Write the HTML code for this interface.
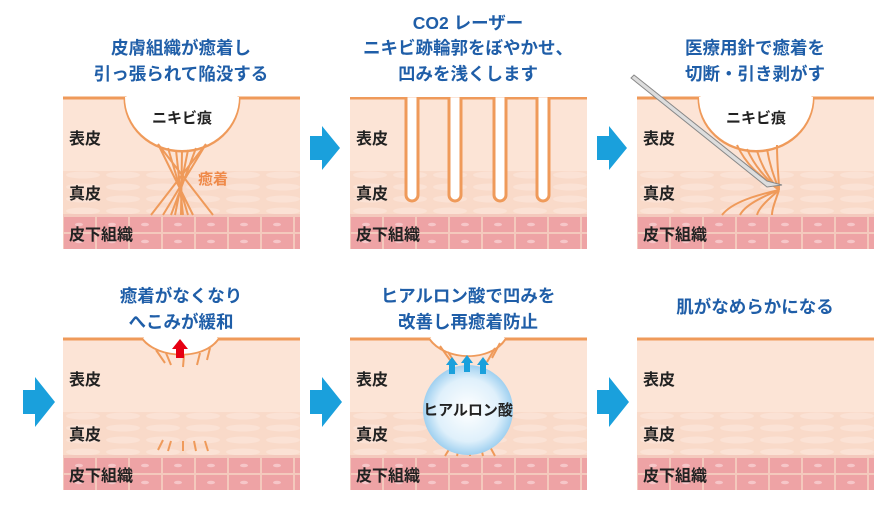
<!DOCTYPE html>
<html><head><meta charset="utf-8"><style>
html,body{margin:0;padding:0;background:#fff;}
svg{display:block;font-family:"Liberation Sans","Noto Sans CJK JP",sans-serif;}
.t{fill:#1f5ea8;font-weight:bold;font-size:17.5px;text-anchor:middle;}
.l{fill:#222;font-size:16px;font-weight:bold;}
.f{stroke:#ef9a5a;stroke-width:2;fill:none;}
</style></head><body>
<svg width="887" height="516" viewBox="0 0 887 516">
<defs>
<pattern id="derm" x="0" y="0" width="40" height="12" patternUnits="userSpaceOnUse">
<rect width="40" height="12" fill="#f9dac9"/>
<ellipse cx="20" cy="6" rx="17" ry="3.5" fill="#fbe2d5"/>
</pattern>
<pattern id="sub" x="0" y="0" width="33" height="17" patternUnits="userSpaceOnUse">
<rect width="33" height="17" fill="#f4c9bd"/>
<rect x="1" y="1" width="31" height="15" fill="#eea3a5"/>
<ellipse cx="16" cy="8.5" rx="4" ry="1.8" fill="#f6c6c8"/>
</pattern>
<g id="panel">
<rect x="0" y="0" width="237" height="74" fill="#fce4d6"/>
<rect x="0" y="74" width="237" height="44" fill="url(#derm)"/>
<rect x="0" y="118" width="237" height="34" fill="url(#sub)"/>
<line x1="0" y1="118" x2="237" y2="118" stroke="#f4c9bd" stroke-width="2"/>
<text class="l" x="6" y="47">表皮</text>
<text class="l" x="6" y="102">真皮</text>
<text class="l" x="6" y="143">皮下組織</text>
</g>
<radialGradient id="ball" cx="50%" cy="50%" r="50%">
<stop offset="0" stop-color="#ffffff"/><stop offset="0.7" stop-color="#dff0fb"/><stop offset="1" stop-color="#9fd0f0"/>
</radialGradient>
</defs>

<text class="t" x="181" y="54">皮膚組織が癒着し</text>
<text class="t" x="181" y="80">引っ張られて陥没する</text>
<text class="t" x="468" y="29">CO2 レーザー</text>
<text class="t" x="468" y="54">ニキビ跡輪郭をぼやかせ、</text>
<text class="t" x="468" y="80">凹みを浅くします</text>
<text class="t" x="755" y="54">医療用針で癒着を</text>
<text class="t" x="755" y="80">切断・引き剥がす</text>
<text class="t" x="181" y="302">癒着がなくなり</text>
<text class="t" x="181" y="328">へこみが緩和</text>
<text class="t" x="468" y="302">ヒアルロン酸で凹みを</text>
<text class="t" x="468" y="328">改善し再癒着防止</text>
<text class="t" x="755" y="313">肌がなめらかになる</text>

<g transform="translate(63,97)">
<use href="#panel"/>
<path d="M0,1 H62 A57,53 0 0 0 176,1 H237" fill="none" stroke="#ef9a5a" stroke-width="3"/>
<path d="M62,0 A57,53 0 0 0 176,0 Z" fill="#fff"/>
<path class="f" d="M95,47 L130,118 M105,51 L125,118 M113,53 L120,118 M119,54 L118,118 M125,53 L112,118 M133,51 L108,118 M143,47 L100,118 M95,47 L150,118 M143,47 L88,118"/>
<text x="119" y="26" font-size="15" font-weight="bold" fill="#222" text-anchor="middle">ニキビ痕</text>
<text x="150" y="87" font-size="15" font-weight="bold" fill="#ef8a4a" text-anchor="middle">癒着</text>
</g>
<g transform="translate(350,97)">
<use href="#panel"/>
<path d="M0,1 H56 V98 A6,6 0 0 0 68,98 V1 H99 V98 A6,6 0 0 0 111,98 V1 H144 V98 A6,6 0 0 0 156,98 V1 H187 V98 A6,6 0 0 0 199,98 V1 H237" fill="#fff" stroke="#ef9a5a" stroke-width="3"/>
<rect x="0" y="-3" width="237" height="3" fill="#fff"/>
</g>
<g transform="translate(637,97)">
<use href="#panel"/>
<path d="M0,1 H62 A57,53 0 0 0 176,1 H237" fill="none" stroke="#ef9a5a" stroke-width="3"/>
<path d="M62,0 A57,53 0 0 0 176,0 Z" fill="#fff"/>
<path class="f" d="M100,48 C110,70 125,80 142,93 M110,52 C118,70 128,80 142,93 M120,54 C125,70 132,82 142,93 M130,52 C133,70 138,82 142,93 M140,48 C140,70 142,82 142,93 M142,93 C120,98 95,105 85,118 M142,93 C125,100 108,108 103,118 M142,93 C132,102 122,110 120,118 M142,93 C138,105 135,112 135,118"/>
<path d="M-3,-22 L130,84 L145,88 L130,90 L125,86 L-6,-19 Z" fill="#ddd" stroke="#888" stroke-width="1"/>
<text x="119" y="26" font-size="15" font-weight="bold" fill="#222" text-anchor="middle">ニキビ痕</text>
</g>
<g transform="translate(63,338)">
<use href="#panel"/>
<path d="M0,1 H80 C95,20 140,22 155,1 H237" fill="none" stroke="#ef9a5a" stroke-width="3"/>
<path d="M80,0 C95,20 140,22 155,0 Z" fill="#fff"/>
<path class="f" d="M93,12 L102,25 M103,15 L108,27 M121,17 L120,29 M137,15 L134,27 M147,10 L144,22 M95,112 L100,102 M105,113 L108,103 M120,113 L120,103 M133,113 L131,103 M145,113 L142,103"/>
<path d="M113,20 V11 H109 L117,1 L125,11 H121 V20 Z" fill="#e60012"/>
</g>
<g transform="translate(350,338)">
<use href="#panel"/>
<path d="M0,1 H80 C95,22 140,24 155,1 H237" fill="none" stroke="#ef9a5a" stroke-width="3"/>
<path d="M80,0 C95,22 140,24 155,0 Z" fill="#fff"/>
<path class="f" d="M90,8 L100,22 M98,14 L105,25 M145,10 L137,24 M150,5 L142,20 M95,118 L103,105 M107,118 L110,105 M120,118 L120,105 M133,118 L130,105 M145,118 L138,105"/>
<circle cx="118" cy="72" r="45" fill="url(#ball)"/>
<g fill="#1aa0dc">
<path d="M99,36 V27 H96 L102,19 L108,27 H105 V36 Z"/>
<path d="M114,34 V25 H111 L117,17 L123,25 H120 V34 Z"/>
<path d="M130,36 V27 H127 L133,19 L139,27 H136 V36 Z"/>
</g>
<text x="118" y="77" font-size="15" font-weight="bold" fill="#222" text-anchor="middle">ヒアルロン酸</text>
</g>
<g transform="translate(637,338)">
<use href="#panel"/>
<line x1="0" y1="1" x2="237" y2="1" stroke="#ef9a5a" stroke-width="3"/>
</g>

<g fill="#1aa0dc">
<path d="M310,136 H322 V126 L340,148 L322,170 V160 H310 Z"/>
<path d="M597,136 H609 V126 L627,148 L609,170 V160 H597 Z"/>
<path d="M23,390 H35 V377 L55,402 L35,427 V414 H23 Z"/>
<path d="M310,390 H322 V377 L342,402 L322,427 V414 H310 Z"/>
<path d="M597,390 H609 V377 L629,402 L609,427 V414 H597 Z"/>
</g>
</svg>
</body></html>
